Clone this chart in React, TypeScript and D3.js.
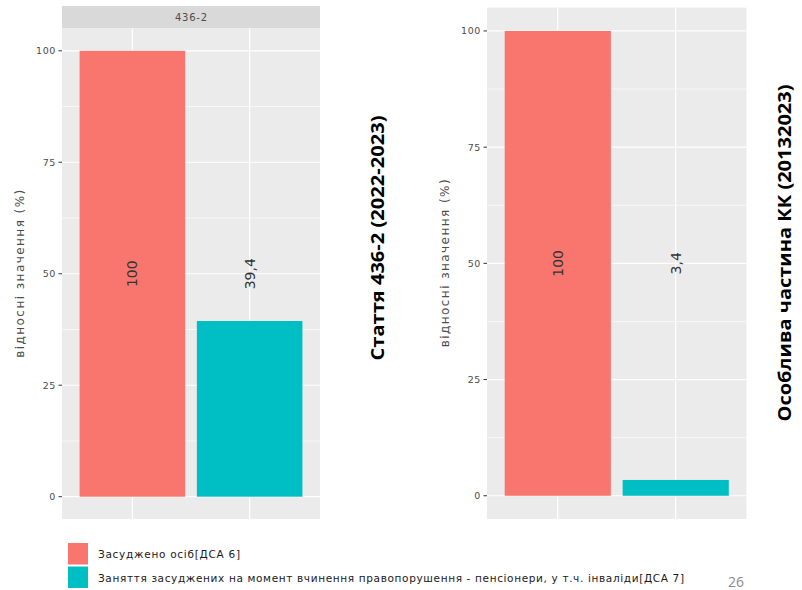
import React from "react";
import * as d3 from "d3";

const categories = ["Засуджено осіб[ДСА 6]", "Заняття засуджених на момент вчинення правопорушення - пенсіонери, у т.ч. інваліди[ДСА 7]"];
const legendLengths = [142, 586];
const colors = ["#F8766D", "#00BFC4"];
const leftValues = [100, 39.4];
const rightValues = [100, 3.4];
const yTicks = [0, 25, 50, 75, 100];
const yMinor = [12.5, 37.5, 62.5, 87.5];
const leftStrip = "436-2";
const leftTitle = "Стаття 436-2 (2022-2023)";
const rightTitle = "Особлива частина КК (20132023)";
const yAxisTitle = "відносні значення (%)";
const pageNumber = "26";

const fmt = (v: number) => String(v).replace(".", ",");

type PanelProps = {
  values: number[];
  x0: number; x1: number; y0: number; y1: number;
  titleX: number;
  strip?: string;
};

function Panel({ values, x0, x1, y0, y1, titleX, strip }: PanelProps) {
  const y = d3.scaleLinear().domain([-5, 105]).range([y1, y0]);
  const x = d3.scaleBand<number>().domain([0, 1]).range([x0, x1]).paddingInner(0.1).paddingOuter(0.15);
  const bw = x.bandwidth();
  const midY = (y0 + y1) / 2;
  return (
    <g>
      {strip && (
        <g>
          <rect x={x0} y={y0 - 22.5} width={x1 - x0} height={22.5} fill="#D9D9D9" />
          <text x={(x0 + x1) / 2} y={y0 - 11} textAnchor="middle" dominantBaseline="central"
            fontFamily="DejaVu Sans" fontSize={10} textLength={32} lengthAdjust="spacing" fill="#4D4D4D">{strip}</text>
        </g>
      )}
      <rect x={x0} y={y0} width={x1 - x0} height={y1 - y0} fill="#EBEBEB" />
      {yMinor.map((t) => (
        <line key={"mi" + t} x1={x0} x2={x1} y1={y(t)} y2={y(t)} stroke="#FFFFFF" strokeWidth={0.6} />
      ))}
      {yTicks.map((t) => (
        <line key={"ma" + t} x1={x0} x2={x1} y1={y(t)} y2={y(t)} stroke="#FFFFFF" strokeWidth={1.2} />
      ))}
      {values.map((_, i) => (
        <line key={"vx" + i} x1={x(i)! + bw / 2} x2={x(i)! + bw / 2} y1={y0} y2={y1} stroke="#FFFFFF" strokeWidth={1.2} />
      ))}
      {values.map((v, i) => (
        <rect key={"b" + i} x={x(i)!} y={y(v)} width={bw} height={y(0) - y(v)} fill={colors[i]} />
      ))}
      {values.map((v, i) => (
        <text key={"l" + i} transform={`translate(${x(i)! + bw / 2},${y(50)}) rotate(-90)`}
          textAnchor="middle" dominantBaseline="central" fontFamily="DejaVu Sans" fontSize={14} fill="#333333">
          {fmt(v)}
        </text>
      ))}
      {yTicks.map((t) => (
        <g key={"t" + t}>
          <line x1={x0 - 3.5} x2={x0} y1={y(t)} y2={y(t)} stroke="#333333" strokeWidth={1} />
          <text x={x0 - 6} y={y(t)} textAnchor="end" dominantBaseline="central"
            fontFamily="DejaVu Sans" fontSize={9.5} letterSpacing={0.6} fill="#4D4D4D">{t}</text>
        </g>
      ))}
      <text transform={`translate(${titleX},${midY}) rotate(-90)`} textAnchor="middle" dominantBaseline="central"
        fontFamily="DejaVu Sans" fontSize={12} textLength={168} lengthAdjust="spacing" fill="#4D4D4D">{yAxisTitle}</text>
    </g>
  );
}

export default function App() {
  return (
    <svg width={802} height={590} style={{ position: "absolute", left: 0, top: 0 }}>
      <rect width={802} height={590} fill="#FFFFFF" />
      <Panel values={leftValues} x0={62} x1={320} y0={28.5} y1={519} titleX={20} strip={leftStrip} />
      <Panel values={rightValues} x0={487} x1={746.5} y0={7.7} y1={519} titleX={445} />
      <text transform="translate(377,238) rotate(-90)" textAnchor="middle" dominantBaseline="central"
        fontFamily="Open Sans" fontWeight="bold" fontSize={18} textLength={245} lengthAdjust="spacingAndGlyphs" fill="#000000">{leftTitle}</text>
      <text transform="translate(784,253) rotate(-90)" textAnchor="middle" dominantBaseline="central"
        fontFamily="Open Sans" fontWeight="bold" fontSize={18} textLength={337} lengthAdjust="spacingAndGlyphs" fill="#000000">{rightTitle}</text>
      {categories.map((c, i) => (
        <g key={"lg" + i}>
          <rect x={68} y={543 + i * 23.5} width={20} height={21.5} fill={colors[i]} />
          <text x={98} y={554 + i * 23.5} dominantBaseline="central" fontFamily="DejaVu Sans" fontSize={10.5}
            textLength={legendLengths[i]} lengthAdjust="spacing" fill="#1A1A1A">{c}</text>
        </g>
      ))}
      <text x={736} y={581} textAnchor="middle" dominantBaseline="central" fontFamily="Open Sans" fontSize={14} fill="#8C8C8C">{pageNumber}</text>
    </svg>
  );
}
